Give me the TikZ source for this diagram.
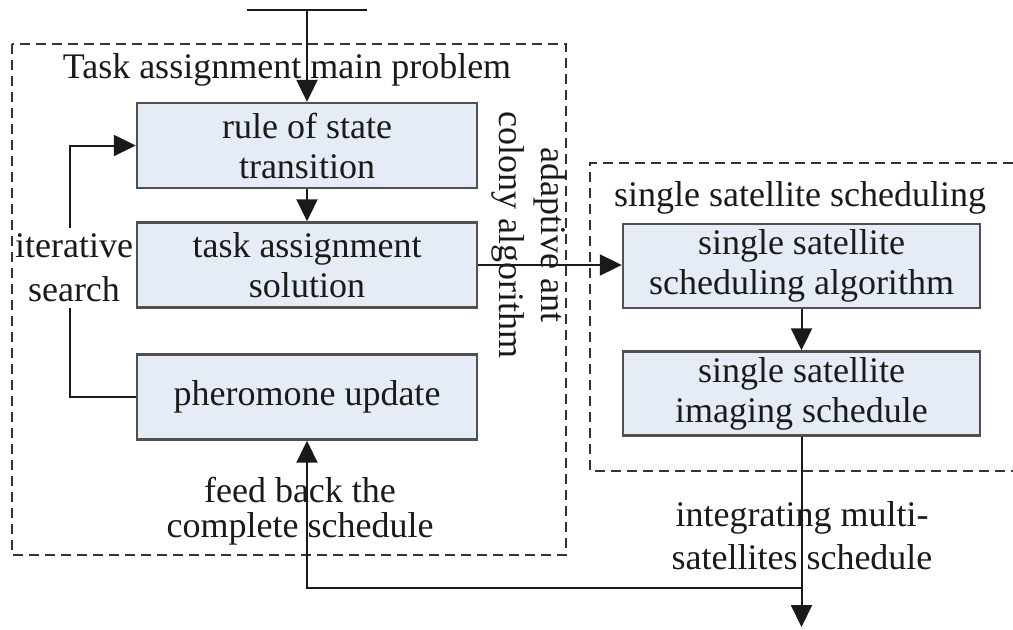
\documentclass[tikz,border=0pt]{standalone}
\usepackage{fontspec}
\setmainfont{Liberation Serif}
\usetikzlibrary{arrows.meta}
\definecolor{boxfill}{HTML}{E6ECF5}
\definecolor{boxline}{HTML}{505050}
\definecolor{linecol}{HTML}{1A1A1A}
\definecolor{framecol}{HTML}{333333}
\definecolor{txt}{HTML}{1A1A1A}
\begin{document}
\begin{tikzpicture}[x=0.5pt,y=-0.5pt,
  box/.style={draw=boxline, fill=boxfill, line width=1.2pt, minimum width=170pt,
    minimum height=42.5pt, inner sep=0pt, align=center, text=txt,
    font=\fontsize{18}{20}\selectfont},
  rbox/.style={box, minimum width=178.5pt, minimum height=42pt},
  lbl/.style={inner sep=0pt, align=center, text=txt, font=\fontsize{18}{20}\selectfont},
  conn/.style={line width=1pt, draw=linecol},
  arr/.style={conn, -{Triangle[length=11pt,width=10.5pt]}},
  frame/.style={draw=framecol, line width=1pt, dash pattern=on 5pt off 3pt}
]
\useasboundingbox (0,0) rectangle (1013,629);

% dashed frames
\draw[frame] (12,44) rectangle (566,555);
\draw[frame] (1013,163) -- (590,163) -- (590,471) -- (1013,471);

% boxes
\node[box] (b1) at (307,145.5) {rule of state\\transition};
\node[box] (b2) at (307,265) {task assignment\\solution};
\node[box] (b3) at (307,397) {pheromone update};
\node[rbox] (b4) at (801.5,266) {single satellite\\scheduling algorithm};
\node[rbox] (b5) at (801.5,393.5) {single satellite\\imaging schedule};

% helper coordinates
\coordinate (topL) at (247,10);
\coordinate (topR) at (367,10);
\coordinate (topM) at (307,10);
\coordinate (out) at (801.5,627);
\coordinate (fbR) at (801.5,588);
\coordinate (fbL) at (307,588);
\coordinate (loopB) at (70,397);
\coordinate (loopT) at (70,145.5);

% connectors
\draw[conn] (topL) -- (topR);
\draw[arr] (topM) -- (b1.north);
\draw[arr] (b1) -- (b2);
\draw[arr] (b2.east) -- (b2.east -| b4.west);
\draw[arr] (b4) -- (b5);
\draw[arr] (b5.south) -- (out);
\draw[arr] (fbR) -- (fbL) -- (b3.south);
\draw[arr] (b3.west) -- (loopB) -- (loopT) -- (b1.west);

% labels
\node[lbl, anchor=base] (t1) at (287,78) {Task assignment main problem};
\node[lbl, anchor=base] (t2) at (800,206) {single satellite scheduling};
\node[lbl, fill=white, inner ysep=3pt, font=\fontsize{18}{22}\selectfont] (it) at (74,268) {iterative\\search};
\node[lbl, font=\fontsize{18}{17.5}\selectfont] (fb) at (300,511) {feed back the\\complete schedule};
\node[lbl, font=\fontsize{18}{21.5}\selectfont] (ig) at (802,536) {integrating multi-\\satellites schedule};
\node[lbl, rotate=-90, font=\fontsize{18}{21}\selectfont] (aa) at (529,235) {adaptive ant\\colony algorithm};
\end{tikzpicture}
\end{document}
